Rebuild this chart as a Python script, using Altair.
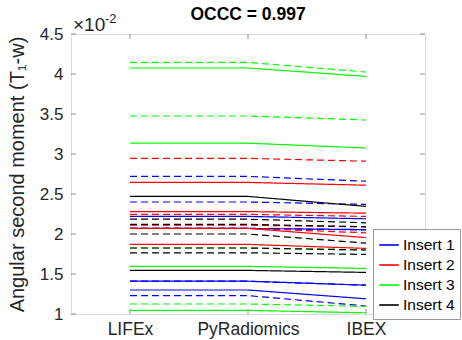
import altair as alt
import pandas as pd

categories = ["LIFEx", "PyRadiomics", "IBEX"]
inserts = ["Insert 1", "Insert 2", "Insert 3", "Insert 4"]
colors = ["#0000ff", "#ff0000", "#00ff00", "#000000"]

# values in units of 1e-2, each line: [LIFEx, PyRadiomics, IBEX]
insert1_solid = [[2.22, 2.22, 2.19], [2.07, 2.07, 2.055], [1.41, 1.41, 1.36], [1.30, 1.30, 1.19]]
insert1_dashed = [[2.72, 2.72, 2.66], [2.40, 2.40, 2.37], [2.07, 2.07, 2.05], [1.41, 1.41, 1.36], [1.23, 1.23, 1.10]]
insert2_solid = [[2.645, 2.645, 2.61], [2.28, 2.28, 2.26], [2.07, 2.07, 1.955], [1.87, 1.87, 1.82]]
insert2_dashed = [[2.945, 2.945, 2.91], [2.245, 2.245, 2.22], [2.11, 2.11, 2.09], [2.07, 2.07, 2.015]]
insert3_solid = [[4.075, 4.075, 3.97], [3.135, 3.135, 3.075], [1.595, 1.595, 1.57], [1.045, 1.045, 1.015]]
insert3_dashed = [[4.145, 4.145, 4.025], [3.475, 3.475, 3.425], [1.825, 1.825, 1.80], [1.125, 1.125, 1.095]]
insert4_solid = [[2.47, 2.47, 2.345], [1.545, 1.545, 1.52]]
insert4_dashed = [[2.185, 2.185, 2.14], [2.12, 2.12, 2.09], [2.0, 2.0, 1.885], [1.825, 1.825, 1.80], [1.765, 1.765, 1.745]]

y_ticks = [1, 1.5, 2, 2.5, 3, 3.5, 4, 4.5]

groups = [
    ("Insert 1", "solid", insert1_solid), ("Insert 1", "dashed", insert1_dashed),
    ("Insert 2", "solid", insert2_solid), ("Insert 2", "dashed", insert2_dashed),
    ("Insert 3", "solid", insert3_solid), ("Insert 3", "dashed", insert3_dashed),
    ("Insert 4", "solid", insert4_solid), ("Insert 4", "dashed", insert4_dashed),
]
rows = []
for ins, style, lines in groups:
    for i, vals in enumerate(lines):
        for cat, v in zip(categories, vals):
            rows.append({"insert": ins, "style": style, "line": f"{ins}-{style}-{i}",
                         "category": cat, "value": v})
df = pd.DataFrame(rows)

FONT = "Liberation Sans"
W, H = 354, 280

x_axis = alt.Axis(title=None, labelAngle=0, labelAlign="center", ticks=False, domain=False,
                  labelFontSize=17.5, labelFont=FONT, labelColor="#262626",
                  labelPadding=6, grid=False, labelOverlap=False)
y_axis = alt.Axis(values=y_ticks, format="~g", ticks=False, domain=False, grid=False,
                  labelOverlap=False, labelFontSize=17, labelFont=FONT,
                  labelColor="#262626", labelPadding=8,
                  title="Angular second moment (T\u2081-w)", titleFont=FONT,
                  titleFontSize=20, titleFontWeight="normal", titleColor="#262626",
                  titlePadding=12)
x_scale = alt.Scale(type="point", padding=0.5)
y_scale = alt.Scale(domain=[1, 4.5], nice=False, zero=False)

lines = alt.Chart(df).mark_line(strokeWidth=1.2).encode(
    x=alt.X("category:N", sort=categories, scale=x_scale, axis=x_axis),
    y=alt.Y("value:Q", scale=y_scale, axis=y_axis),
    color=alt.Color("insert:N", scale=alt.Scale(domain=inserts, range=colors),
                    legend=alt.Legend(title=None, orient="none", legendX=302, legendY=195,
                                      strokeColor="#9a9a9a", fillColor="white", padding=5,
                                      labelFont=FONT, labelFontSize=15.5, labelColor="#000000",
                                      symbolType="stroke", symbolSize=380, symbolStrokeWidth=1.6,
                                      rowPadding=0, labelOffset=3, cornerRadius=0)),
    strokeDash=alt.StrokeDash("style:N", scale=alt.Scale(domain=["solid", "dashed"],
                                                         range=[[1, 0], [7, 4]]), legend=None),
    detail="line:N",
)

ytick_df = pd.DataFrame({"value": y_ticks})
xtick_df = pd.DataFrame({"category": categories})
tick_color = "#8c8c8c"
ytick_left = alt.Chart(ytick_df).mark_rule(color=tick_color).encode(
    y=alt.Y("value:Q", scale=y_scale, axis=y_axis), x=alt.value(0), x2=alt.value(5))
ytick_right = alt.Chart(ytick_df).mark_rule(color=tick_color).encode(
    y=alt.Y("value:Q", scale=y_scale, axis=y_axis), x=alt.value(W), x2=alt.value(W - 5))
xtick_bottom = alt.Chart(xtick_df).mark_rule(color=tick_color).encode(
    x=alt.X("category:N", sort=categories, scale=x_scale, axis=x_axis),
    y=alt.value(H), y2=alt.value(H - 5))
xtick_top = alt.Chart(xtick_df).mark_rule(color=tick_color).encode(
    x=alt.X("category:N", sort=categories, scale=x_scale, axis=x_axis),
    y=alt.value(0), y2=alt.value(5))

exp_base_df = pd.DataFrame({"t": ["\u00d710"]})
exp_sup_df = pd.DataFrame({"t": ["-2"]})
exponent = alt.Chart(exp_base_df).mark_text(align="left", baseline="alphabetic", font=FONT,
                                            fontSize=19, color="#262626").encode(
    text="t:N", x=alt.value(2), y=alt.value(-3))
exponent_sup = alt.Chart(exp_sup_df).mark_text(align="left", baseline="alphabetic", font=FONT,
                                               fontSize=13, color="#262626").encode(
    text="t:N", x=alt.value(34), y=alt.value(-11))

chart = alt.layer(lines, ytick_left, ytick_right, xtick_bottom, xtick_top,
                  exponent, exponent_sup).properties(
    width=W, height=H,
    padding={"left": 71, "top": 34, "right": 37, "bottom": 26},
    autosize=alt.AutoSizeParams(type="none"),
    title=alt.Title("OCCC = 0.997", font=FONT, fontSize=17.5, fontWeight="bold",
                    color="#000000", offset=-10, anchor="middle"),
).configure_view(stroke="#8c8c8c", strokeWidth=1).configure(background="white")

chart.save("out.html", embed_options={"renderer": "svg", "actions": False})
